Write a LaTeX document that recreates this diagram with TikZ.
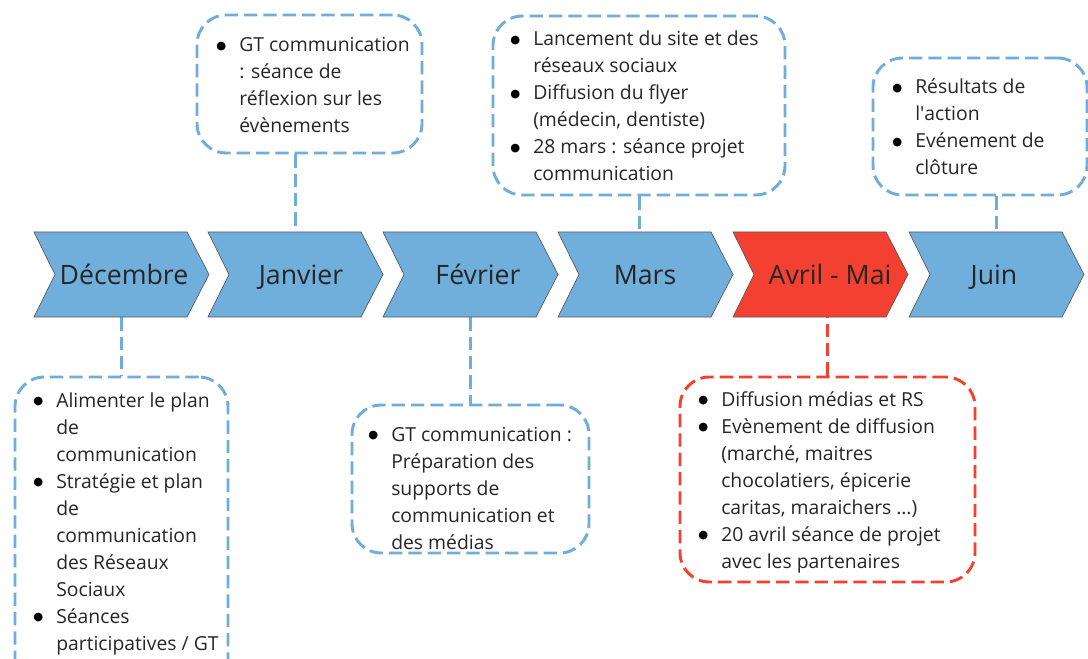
\documentclass[tikz,border=0pt]{standalone}
\usepackage{fontspec}
\setmainfont{Open Sans}
\newfontfamily\symfont{DejaVu Sans}
\usetikzlibrary{fit}
\definecolor{mblue}{RGB}{112,174,219}
\definecolor{lblue}{RGB}{112,172,220}
\definecolor{mred}{RGB}{244,64,48}
\definecolor{txt}{RGB}{38,38,38}
\tikzset{
  chev/.style={draw=black!65, line width=0.5pt, line join=miter},
  chevarea/.style={inner sep=0pt},
  month/.style={font=\fontsize{20}{24}\selectfont, text=txt, anchor=base, inner sep=0pt},
  note/.style={draw=#1, line width=2.2pt, dash pattern=on 10pt off 4.5pt, rounded corners=22pt, inner sep=0pt},
  link/.style={draw=#1, line width=2.2pt, dash pattern=on 10pt off 4.5pt},
  items/.style={font=\fontsize{14.5}{20.25}\selectfont, text=txt, anchor=base west, inner sep=0pt},
}
% bullet column and list body
\newcommand\bitem{\makebox[16.5pt][l]{\hspace{-0.6pt}\raisebox{2pt}{\color{black}\symfont\fontsize{8.5}{8.5}\selectfont ●}}}
\newcommand\blist[1]{\begin{tabular}[t]{@{}l@{}l@{}}#1\end{tabular}}
% one chevron of the timeline, left edge at x = #1
\newcommand\chevron[2]{\filldraw[chev, fill=#2] (#1,232) -- ++(153,0) -- ++(22,42.5) -- ++(-22,42.5) -- ++(-153,0) -- ++(21,-42.5) -- cycle;}
\begin{document}
\begin{tikzpicture}[x=0.75pt, y=-0.75pt]
\clip (0,0) rectangle (1088,659);
\fill[white] (0,0) rectangle (1088,659);

% areas covered by the chevrons
\node[chevarea, fit={(34,232)(209,317)}] (dec) {};
\node[chevarea, fit={(208,232)(383,317)}] (jan) {};
\node[chevarea, fit={(383,232)(558,317)}] (fev) {};
\node[chevarea, fit={(558,232)(733,317)}] (mars) {};
\node[chevarea, fit={(733,232)(908,317)}] (avr) {};
\node[chevarea, fit={(909,232)(1084,317)}] (juin) {};

% note boxes
\node[note=lblue, fit={(197,15)(422,153)}] (janbox) {};
\node[note=lblue, fit={(493,16)(785,195)}] (marsbox) {};
\node[note=lblue, fit={(873,58)(1087,195)}] (juinbox) {};
\node[note=lblue, fit={(15,377)(228,690)}] (decbox) {};
\node[note=lblue, fit={(352,405)(589,553)}] (fevbox) {};
\node[note=mred, fit={(680,377)(975,582)}] (avrbox) {};

% connectors
\draw[link=lblue] (dec.south) -- (dec.south |- decbox.north);
\draw[link=lblue] (jan.north |- janbox.south) -- (jan.north);
\draw[link=lblue] (fev.south) -- (fev.south |- fevbox.north);
\draw[link=lblue] ([xshift=0.3pt]marsbox.south) -- ([xshift=0.3pt]marsbox.south |- mars.north);
\draw[link=mred] (avrbox.north) -- (avrbox.north |- avr.south);
\draw[link=lblue] (juin.north |- juinbox.south) -- (juin.north);

% timeline
\chevron{34}{mblue}
\chevron{208}{mblue}
\chevron{383}{mblue}
\chevron{558}{mblue}
\chevron{733}{mred}
\chevron{909}{mblue}

\node[month] (decL) at (124,284) {Décembre};
\node[month] (janL) at (301,284) {Janvier};
\node[month] (fevL) at (478,284) {Février};
\node[month] (marsL) at (645,284) {Mars};
\node[month] (avrL) at (830,284) {Avril - Mai};
\node[month] (juinL) at (994,284) {Juin};

% note texts
\node[items] (janT) at (217,52) {\blist{\bitem & GT communication\\ & : séance de\\ & réflexion sur les\\ & évènements}};
\node[items] (marsT) at (511,46) {\blist{\bitem & Lancement du site et des\\ & réseaux sociaux\\ \bitem & Diffusion du flyer\\ & (médecin, dentiste)\\ \bitem & 28 mars : séance projet\\ & communication}};
\node[items] (juinT) at (893,94) {\blist{\bitem & Résultats de\\ & l\textquotesingle action\\ \bitem & Evénement de\\ & clôture}};
\node[items] (decT) at (34,407) {\blist{\bitem & Alimenter le plan\\ & de\\ & communication\\ \bitem & Stratégie et plan\\ & de\\ & communication\\ & des Réseaux\\ & Sociaux\\ \bitem & Séances\\ & participatives / GT}};
\node[items] (fevT) at (369,441) {\blist{\bitem & GT communication :\\ & Préparation des\\ & supports de\\ & communication et\\ & des médias}};
\node[items] (avrT) at (699,406) {\blist{\bitem & Diffusion médias et RS\\ \bitem & Evènement de diffusion\\ & (marché, maitres\\ & chocolatiers, épicerie\\ & caritas, maraichers …)\\ \bitem & 20 avril séance de projet\\ & avec les partenaires}};
\end{tikzpicture}
\end{document}
